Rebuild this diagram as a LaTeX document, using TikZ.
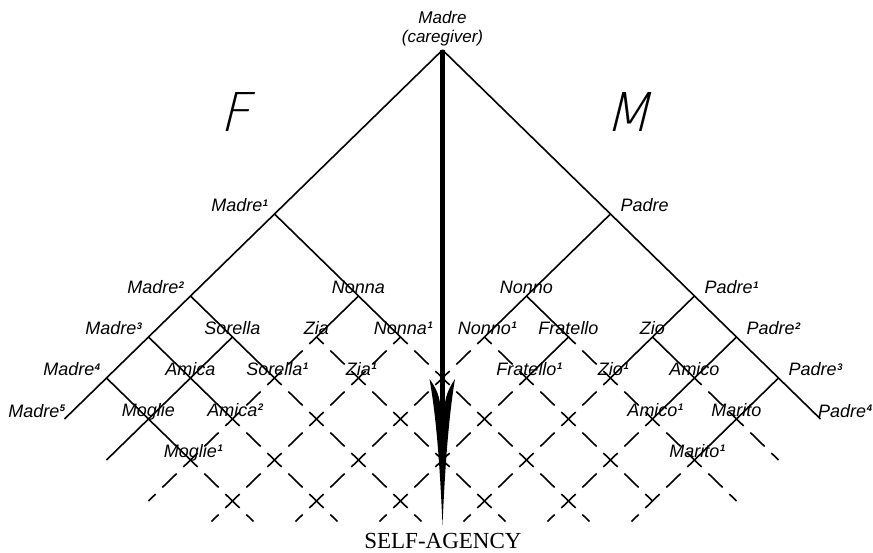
\documentclass[tikz,border=0pt]{standalone}
\usepackage{fontspec}
\setmainfont{Liberation Sans}
\newfontfamily\agencyfont{Liberation Serif}
\newfontfamily\thinfont{DejaVu Sans ExtraLight}[FakeSlant=0.25]
\newcommand\labfont{\fontsize{18}{16}\selectfont\itshape}
% small bold exponent that does not take part in the label's width
\newcommand\upnum[1]{\rlap{\kern0.6pt\raisebox{5.8pt}{\fontsize{9.5}{9.5}\selectfont\bfseries #1}}}

\tikzset{
  solidline/.style={line width=1.6pt},
  dashline/.style={line width=1.6pt, dash pattern=on 20pt off 9.35pt, dash phase=10pt},
  lab/.style={font=\labfont, inner sep=0pt},
  toplab/.style={font=\fontsize{17}{17}\selectfont\itshape, inner sep=0pt, anchor=base},
  inlab/.style={lab, anchor=base, yshift=2.5pt},
  leftlab/.style={lab, anchor=base east, yshift=2pt, xshift=-12pt},
  leftendlab/.style={lab, anchor=base east, yshift=2pt, xshift=-5pt},
  rightlab/.style={lab, anchor=base west, yshift=2pt, xshift=10pt},
  rightendlab/.style={lab, anchor=base west, yshift=2pt, xshift=-2.5pt},
  biglab/.style={font=\thinfont\fontsize{53.5}{53.5}\selectfont, inner sep=0pt, anchor=base west},
}

\begin{document}
\begin{tikzpicture}[x=42pt, y=-41pt]
\useasboundingbox (-10.5357,-1.2195) rectangle (10.25,12.2683);

% apex
\coordinate (apex) at (0,0);
% mother line and its branches
\coordinate (m1) at (-4,4);
\coordinate (m2) at (-6,6);
\coordinate (m3) at (-7,7);
\coordinate (m4) at (-8,8);
\coordinate (m5) at (-9,9);
\coordinate (nonna) at (-2,6);
\coordinate (zia) at (-3,7);
\coordinate (nonna1) at (-1,7);
\coordinate (sorella) at (-5,7);
\coordinate (sorella1) at (-4,8);
\coordinate (zia1) at (-2,8);
\coordinate (amica) at (-6,8);
\coordinate (amica2) at (-5,9);
\coordinate (moglie) at (-7,9);
\coordinate (moglie1) at (-6,10);
\coordinate (lend) at (-8,10);
% father line and its branches
\coordinate (p0) at (4,4);
\coordinate (p1) at (6,6);
\coordinate (p2) at (7,7);
\coordinate (p3) at (8,8);
\coordinate (p4) at (9,9);
\coordinate (nonno) at (2,6);
\coordinate (nonno1) at (1,7);
\coordinate (fratello) at (3,7);
\coordinate (fratello1) at (2,8);
\coordinate (zio) at (5,7);
\coordinate (zio1) at (4,8);
\coordinate (amico) at (6,8);
\coordinate (amico1) at (5,9);
\coordinate (marito) at (7,9);
\coordinate (marito1) at (6,10);
\coordinate (rend) at (8,10);
% lower ends of the dashed lattice
\coordinate (endc4) at (-7,11);
\coordinate (endd4) at (7,11);
\coordinate (endd6) at (5,11);
\foreach \c in {6,8,10,12,14,16} {\coordinate (endc\c) at (\c-11.5,11.5);}
\foreach \d in {8,10,12,14,16} {\coordinate (endd\d) at (11.5-\d,11.5);}

% dashed lattice
\draw[dashline] (zia) -- (endc4);
\draw[dashline] (nonna1) -- (endc6);
\draw[dashline] (nonno1) -- (endc8);
\draw[dashline] (fratello1) -- (endc10);
\draw[dashline] (zio1) -- (endc12);
\draw[dashline] (amico1) -- (endc14);
\draw[dashline] (marito1) -- (endc16);
\draw[dashline] (amico) -- (rend);
\draw[dashline] (fratello) -- (endd4);
\draw[dashline] (nonno1) -- (endd6);
\draw[dashline] (nonna1) -- (endd8);
\draw[dashline] (zia) -- (endd10);
\draw[dashline] (sorella1) -- (endd12);
\draw[dashline] (amica2) -- (endd14);
\draw[dashline] (moglie1) -- (endd16);

% solid lines
\draw[solidline] (apex) -- (m1) -- (m2) -- (m3) -- (m4) -- (m5);
\draw[solidline] (apex) -- (p0) -- (p1) -- (p2) -- (p3) -- (p4);
\draw[solidline] (m1) -- (nonna) -- (nonna1);
\draw[solidline] (nonna) -- (zia);
\draw[solidline] (m2) -- (sorella) -- (sorella1);
\draw[solidline] (sorella) -- (amica) -- (moglie) -- (lend);
\draw[solidline] (m3) -- (amica) -- (amica2);
\draw[solidline] (m4) -- (moglie) -- (moglie1);
\draw[solidline] (p0) -- (nonno) -- (nonno1);
\draw[solidline] (nonno) -- (fratello) -- (fratello1);
\draw[solidline] (p1) -- (zio) -- (zio1);
\draw[solidline] (zio) -- (amico);
\draw[solidline] (p2) -- (amico) -- (amico1);
\draw[solidline] (p3) -- (marito) -- (marito1);

% central arrow
\coordinate (shaftend) at (0,8.7);
\draw[line width=4.5pt] (apex) -- (shaftend);
\begin{scope}[shift={(0,8)}, x=1pt, y=-1pt]
  \fill (0,147) .. controls (-2.5,90) and (-6,40) .. (-13,1)
        .. controls (-8,8) and (-3,16) .. (-2.2,28)
        -- (2.2,28)
        .. controls (3,16) and (8,8) .. (12.5,1)
        .. controls (6,40) and (2.5,90) .. (0,147) -- cycle;
\end{scope}

% labels
\node[toplab, yshift=26pt] (tapex) at (apex) {Madre};
\node[toplab, yshift=7pt] (tcare) at (apex) {(caregiver)};
\node[biglab] (tF) at (-5.31,2) {F};
\node[biglab] (tM) at (3.855,2) {M};

\node[leftlab] (tm1) at (m1) {Madre\upnum{1}};
\node[leftlab] (tm2) at (m2) {Madre\upnum{2}};
\node[leftlab] (tm3) at (m3) {Madre\upnum{3}};
\node[leftlab] (tm4) at (m4) {Madre\upnum{4}};
\node[leftendlab] (tm5) at (m5) {Madre\upnum{5}};
\node[rightlab] (tp0) at (p0) {Padre};
\node[rightlab] (tp1) at (p1) {Padre\upnum{1}};
\node[rightlab] (tp2) at (p2) {Padre\upnum{2}};
\node[rightlab] (tp3) at (p3) {Padre\upnum{3}};
\node[rightendlab] (tp4) at (p4) {Padre\upnum{4}};

\node[inlab] (tnonna) at (nonna) {Nonna};
\node[inlab] (tzia) at (zia) {Zia};
\node[inlab] (tnonna1) at (nonna1) {Nonna\upnum{1}};
\node[inlab] (tsorella) at (sorella) {Sorella};
\node[inlab] (tsorella1) at (sorella1) {Sorella\upnum{1}};
\node[inlab] (tzia1) at (zia1) {Zia\upnum{1}};
\node[inlab] (tamica) at (amica) {Amica};
\node[inlab] (tamica2) at (amica2) {Amica\upnum{2}};
\node[inlab] (tmoglie) at (moglie) {Moglie};
\node[inlab] (tmoglie1) at (moglie1) {Moglie\upnum{1}};

\node[inlab] (tnonno) at (nonno) {Nonno};
\node[inlab] (tnonno1) at (nonno1) {Nonno\upnum{1}};
\node[inlab] (tfratello) at (fratello) {Fratello};
\node[inlab] (tfratello1) at (fratello1) {Fratello\upnum{1}};
\node[inlab] (tzio) at (zio) {Zio};
\node[inlab] (tzio1) at (zio1) {Zio\upnum{1}};
\node[inlab] (tamico) at (amico) {Amico};
\node[inlab] (tamico1) at (amico1) {Amico\upnum{1}};
\node[inlab] (tmarito) at (marito) {Marito};
\node[inlab] (tmarito1) at (marito1) {Marito\upnum{1}};

\node[font=\agencyfont\fontsize{23}{23}\selectfont, inner sep=0pt, anchor=base] (tself) at (0.01,12.17) {SELF-AGENCY};
\end{tikzpicture}
\end{document}
